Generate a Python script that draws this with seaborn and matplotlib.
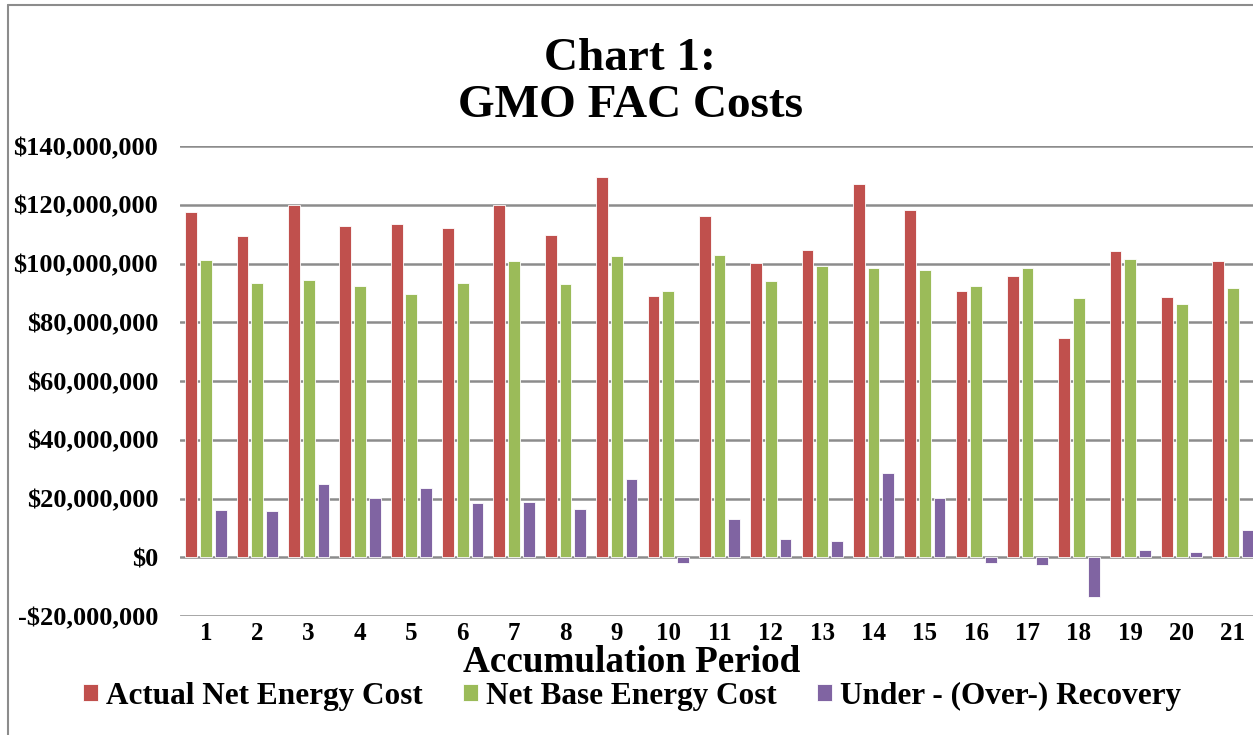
import numpy as np
import pandas as pd
import matplotlib
matplotlib.use("Agg")
import matplotlib.pyplot as plt
import seaborn as sns
from matplotlib.lines import Line2D
from matplotlib.ticker import FuncFormatter

# chart data (values in $ millions)
periods = ["1", "2", "3", "4", "5", "6", "7", "8", "9", "10", "11",
           "12", "13", "14", "15", "16", "17", "18", "19", "20", "21"]
actual_cost = [117.4, 109.5, 119.8, 112.9, 113.6, 112.1, 119.8, 109.6, 129.6, 88.9, 116.1,
               100.3, 104.7, 127.0, 118.2, 90.6, 95.7, 74.6, 104.1, 88.5, 100.8]
base_cost = [101.1, 93.2, 94.4, 92.5, 89.6, 93.4, 100.8, 93.0, 102.7, 90.6, 102.8,
             93.9, 99.1, 98.4, 97.7, 92.2, 98.4, 88.1, 101.5, 86.2, 91.5]
recovery = [16.1, 15.9, 24.9, 20.3, 23.7, 18.5, 18.7, 16.4, 26.6, -1.8, 13.0,
            6.3, 5.6, 28.6, 20.3, -1.8, -2.8, -13.7, 2.4, 1.9, 9.2]
series_names = ["Actual Net Energy Cost", "Net Base Energy Cost", "Under - (Over-) Recovery"]
colors = ["#C0504D", "#9BBB59", "#8064A2"]

# long frame for seaborn
df = pd.DataFrame({
    "period": periods * 3,
    "series": np.repeat(series_names, len(periods)),
    "value": np.array(actual_cost + base_cost + recovery) * 1e6,
})

sns.set_style("white")
plt.rcParams["font.family"] = ["Liberation Serif", "DejaVu Serif"]
plt.rcParams["font.weight"] = "bold"
plt.rcParams["text.color"] = "black"
plt.rcParams["xtick.color"] = "black"
plt.rcParams["ytick.color"] = "black"

W, H = 1253, 735
fig = plt.figure(figsize=(W / 100, H / 100), dpi=100)
ax = fig.add_axes([180.3 / W, 1 - 616 / H, (W - 180.3) / W, (616 - 146) / H])

sns.barplot(data=df, x="period", y="value", hue="series", order=periods,
            hue_order=series_names, palette=colors, width=0.86, gap=0.2,
            edgecolor="white", linewidth=0.6, saturation=1, ax=ax)

ax.set_xlim(-0.5, 20.39)
ax.set_ylim(-20e6, 140e6)
ax.set_yticks(np.arange(-20e6, 140e6 + 1, 20e6))

def money(v, pos):
    v = int(round(v))
    if v < 0:
        return "-${:,}".format(-v)
    return "${:,}".format(v)

ax.yaxis.set_major_formatter(FuncFormatter(money))
ax.yaxis.grid(True, color="#8C8C8C", linewidth=1.8)
ax.set_axisbelow(True)
for s in ax.spines.values():
    s.set_visible(False)
ax.tick_params(axis="y", length=0, pad=16, labelsize=19, labelcolor="black")
ax.tick_params(axis="x", length=0, pad=4, labelsize=18, labelcolor="black")
for lab in ax.get_xticklabels() + ax.get_yticklabels():
    lab.set_fontweight("bold")
ax.set_xlabel("")
ax.set_ylabel("")

# titles
fig.text(630 / W, 1 - 70 / H, "Chart 1:", ha="center", va="baseline",
         fontsize=34, fontweight="bold", color="black")
fig.text(630 / W, 1 - 117 / H, "GMO FAC Costs", ha="center", va="baseline",
         fontsize=34, fontweight="bold", color="black")
fig.text(631.5 / W, 1 - 672 / H, "Accumulation Period", ha="center", va="baseline",
         fontsize=26.7, fontweight="bold", color="black")

# legend along the bottom
handles, labels = ax.get_legend_handles_labels()
ax.get_legend().remove()
leg = fig.legend(handles, labels, loc="center", bbox_to_anchor=(632 / W, 1 - 696 / H),
                 ncol=3, frameon=False, prop={"size": 22.5, "weight": "bold"},
                 handlelength=0.48, handleheight=0.48, handletextpad=0.25,
                 columnspacing=1.3, borderpad=0, borderaxespad=0)
for t in leg.get_texts():
    t.set_color("black")

# outer frame (left and top edges visible)
fig.add_artist(Line2D([7.5 / W, 7.5 / W], [0, 1 - 4.5 / H], transform=fig.transFigure,
                      color="#8C8C8C", linewidth=1.5))
fig.add_artist(Line2D([7.5 / W, 1], [1 - 4.5 / H, 1 - 4.5 / H], transform=fig.transFigure,
                      color="#8C8C8C", linewidth=1.5))

fig.savefig("out.png", dpi=100)
